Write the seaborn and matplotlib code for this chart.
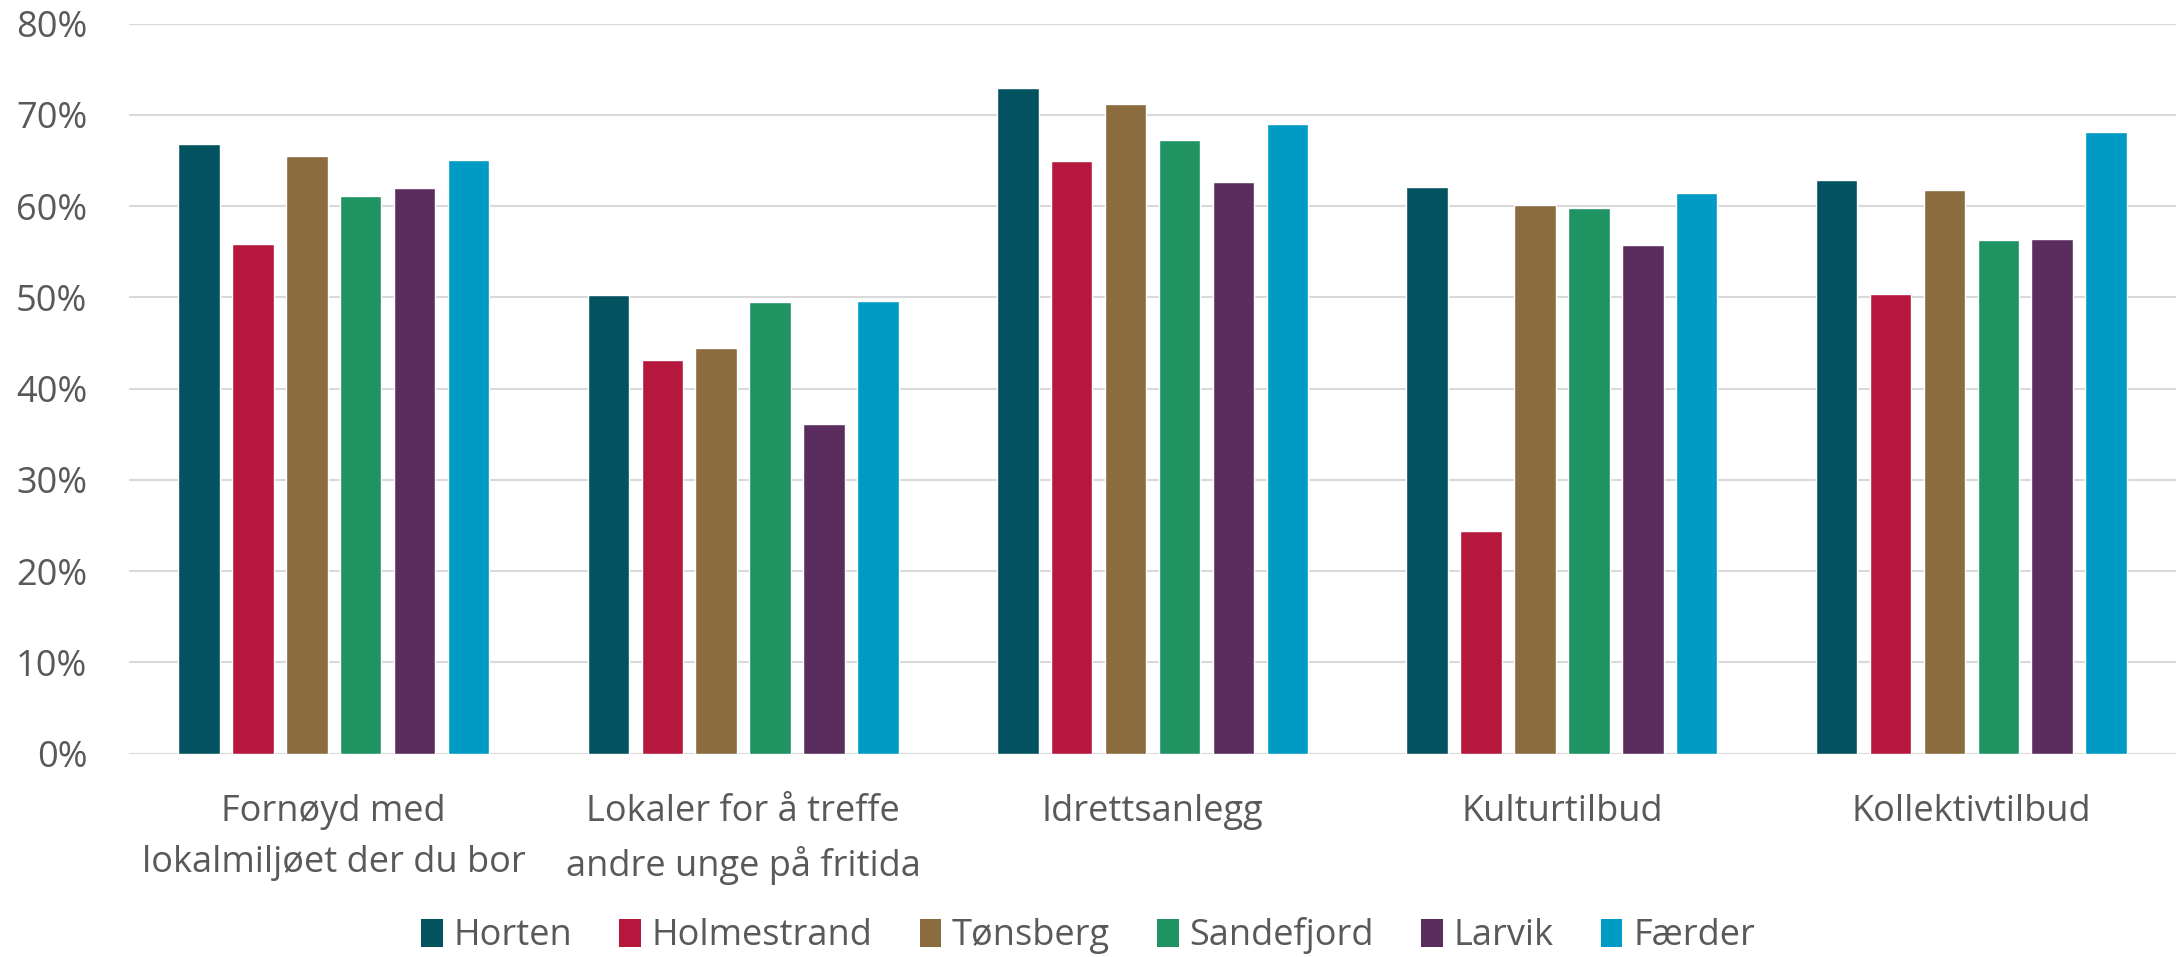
import matplotlib
matplotlib.use("Agg")
import matplotlib.pyplot as plt
import seaborn as sns
import pandas as pd
import numpy as np
from matplotlib.patches import Patch
from matplotlib.ticker import FuncFormatter

categories = ["Fornøyd med\nlokalmiljøet der du bor",
              "Lokaler for å treffe\nandre unge på fritida",
              "Idrettsanlegg", "Kulturtilbud", "Kollektivtilbud"]
municipalities = ["Horten", "Holmestrand", "Tønsberg", "Sandefjord", "Larvik", "Færder"]
horten = [66.8, 50.3, 73.0, 62.1, 62.9]
holmestrand = [55.9, 43.1, 65.0, 24.4, 50.4]
tonsberg = [65.5, 44.4, 71.2, 60.1, 61.8]
sandefjord = [61.1, 49.5, 67.3, 59.8, 56.3]
larvik = [62.0, 36.1, 62.6, 55.7, 56.4]
faerder = [65.1, 49.6, 69.0, 61.4, 68.1]
yticks = [0, 10, 20, 30, 40, 50, 60, 70, 80]

colors = ["#02535F", "#B5173D", "#8B6C3E", "#1F9462", "#5B2D5E", "#009BC4"]

series = [horten, holmestrand, tonsberg, sandefjord, larvik, faerder]
rows = []
for m, vals in zip(municipalities, series):
    for c, v in zip(categories, vals):
        rows.append({"Kategori": c, "Kommune": m, "Andel": v / 100})
df = pd.DataFrame(rows)

sns.set_style("white")
plt.rcParams["font.family"] = ["Open Sans", "DejaVu Sans"]
text_color = "#595959"
fs = 26

fig = plt.figure(figsize=(21.76, 9.57), dpi=100)
ax = fig.add_axes([0.0593, 0.2125, 0.9407, 0.7628])

sns.barplot(data=df, x="Kategori", y="Andel", hue="Kommune",
            order=categories, hue_order=municipalities,
            palette=colors, width=0.79, gap=0.23, saturation=1,
            errorbar=None, legend=False, ax=ax)

ax.set_ylim(0, 0.8)
ax.set_xlim(-0.5, len(categories) - 0.5)
ax.set_yticks([t / 100 for t in yticks])
ax.yaxis.set_major_formatter(FuncFormatter(lambda v, p: f"{v*100:.0f}%"))
ax.grid(axis="y", color="#D9D9D9", linewidth=1.5)
ax.set_axisbelow(True)
for s in ax.spines.values():
    s.set_visible(False)
ax.set_xlabel("")
ax.set_ylabel("")
ax.tick_params(axis="y", length=0, pad=30, labelsize=fs, labelcolor=text_color)
ax.tick_params(axis="x", length=0, pad=29, labelsize=fs, labelcolor=text_color)
for lbl in ax.get_xticklabels():
    lbl.set_linespacing(1.55)

handles = [Patch(facecolor=c, edgecolor="none") for c in colors]
fig.legend(handles, municipalities, loc="center", bbox_to_anchor=(0.5, 0.022),
           ncol=6, frameon=False, fontsize=fs, labelcolor=text_color,
           handlelength=0.6, handleheight=0.85, handletextpad=0.3,
           columnspacing=1.3)

fig.savefig("out.png", dpi=100)
